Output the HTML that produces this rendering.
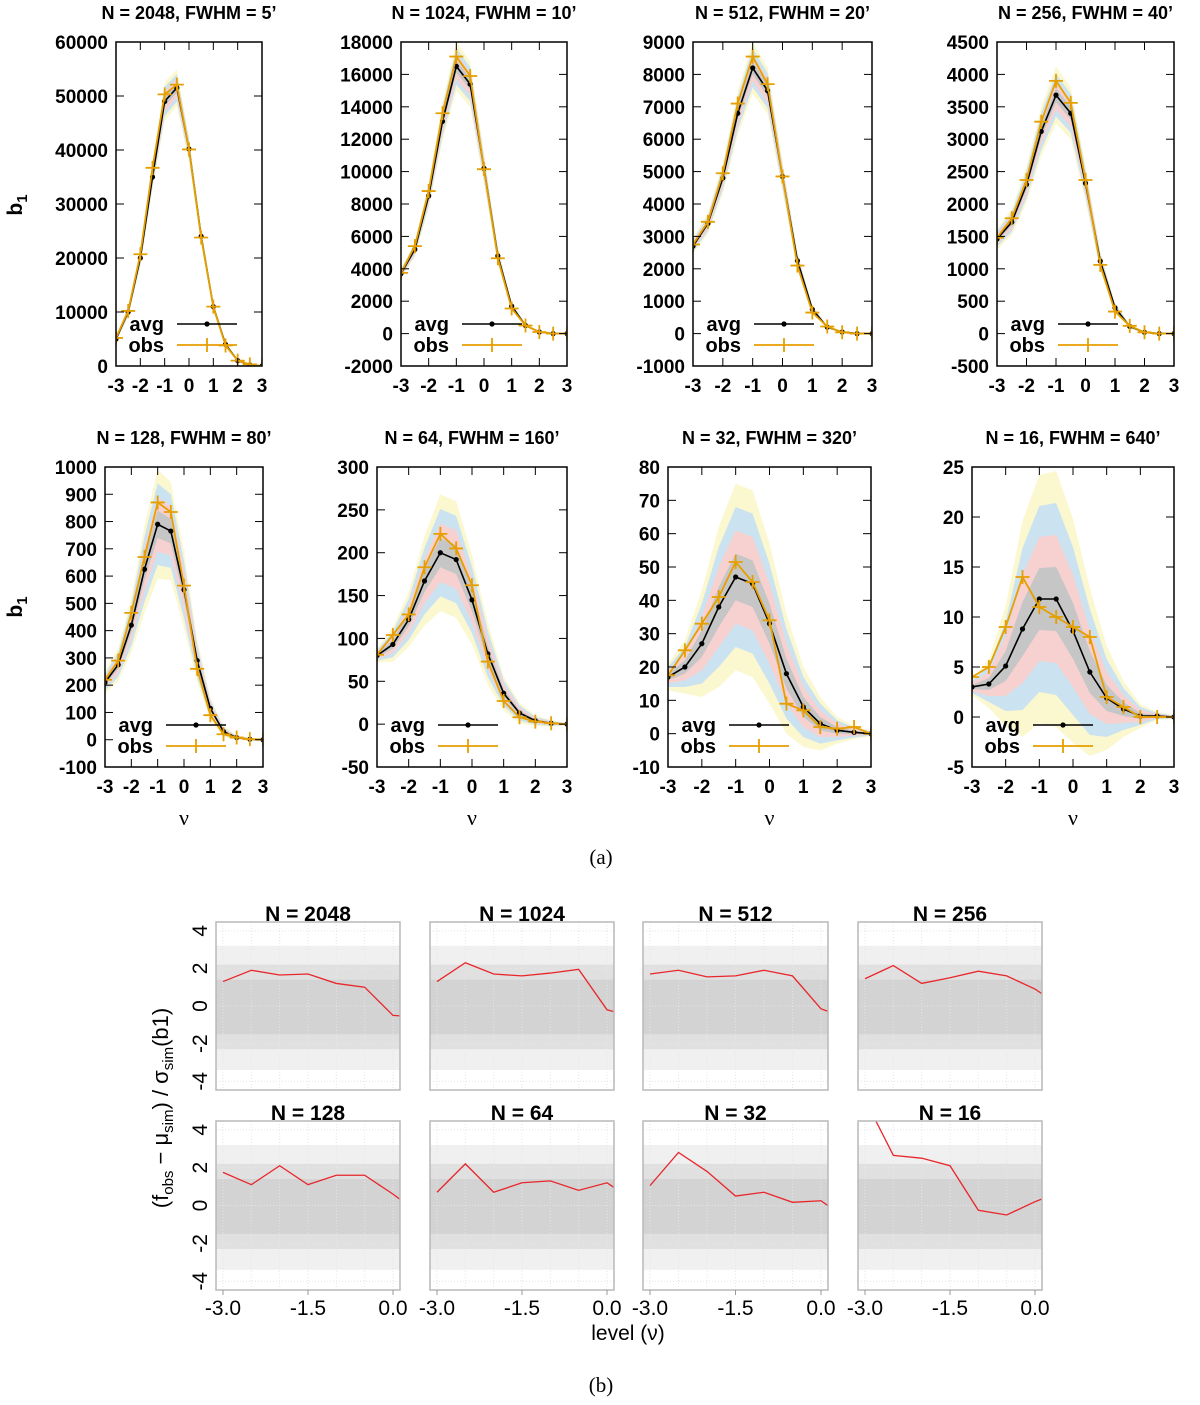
<!DOCTYPE html>
<html><head><meta charset="utf-8"><style>
html,body{margin:0;padding:0;background:#fff;}
svg{display:block;font-family:"Liberation Sans",sans-serif;}
</style></head><body>
<svg id="fig" width="1200" height="1405" viewBox="0 0 1200 1405" xmlns="http://www.w3.org/2000/svg">
<defs id="defs"></defs>
<text x="601" y="864" text-anchor="middle" font-family="Liberation Serif, serif" font-size="21">(a)</text>
<text x="601" y="1392" text-anchor="middle" font-family="Liberation Serif, serif" font-size="21">(b)</text>
<text transform="translate(22,205) rotate(-90)" text-anchor="middle" font-weight="bold" font-size="21">b<tspan font-size="15" dy="5">1</tspan></text>
<text transform="translate(22,607) rotate(-90)" text-anchor="middle" font-weight="bold" font-size="21">b<tspan font-size="15" dy="5">1</tspan></text>
<text transform="translate(168,1108) rotate(-90)" text-anchor="middle" font-size="22">(f<tspan font-size="15" dy="5">obs</tspan><tspan dy="-5"> − μ</tspan><tspan font-size="15" dy="5">sim</tspan><tspan dy="-5">) / σ</tspan><tspan font-size="15" dy="5">sim</tspan><tspan dy="-5">(b1)</tspan></text>
<text x="628" y="1340" text-anchor="middle" font-size="21">level (ν)</text>
</svg>
<script>
const nu = [-3,-2.5,-2,-1.5,-1,-0.5,0,0.5,1,1.5,2,2.5,3];
const titles = ["N = 2048, FWHM = 5’","N = 1024, FWHM = 10’","N = 512, FWHM = 20’","N = 256, FWHM = 40’","N = 128, FWHM = 80’","N = 64, FWHM = 160’","N = 32, FWHM = 320’","N = 16, FWHM = 640’"];
const avg2048 = [5000,10000,20000,35000,49000,51500,40200,24000,11000,4000,1000,200,0];
const obs2048 = [5200,10200,20700,36700,50300,52100,40100,23800,11000,3800,1000,300,0];
const sig2048 = [150,250,400,600,900,850,600,400,250,120,50,20,5];
const avg1024 = [3700,5200,8500,13100,16500,15400,10200,4800,1700,500,100,0,0];
const obs1024 = [3750,5400,8800,13600,17100,15900,10150,4650,1550,500,100,0,0];
const sig1024 = [80,120,200,300,380,350,250,130,60,25,10,5,2];
const avg512 = [2700,3400,4800,6800,8200,7500,4850,2250,750,200,50,0,0];
const obs512 = [2750,3450,4950,7100,8550,7700,4850,2100,650,220,40,0,0];
const sig512 = [60,80,120,170,200,180,120,70,30,12,5,2,1];
const avg256 = [1460,1720,2300,3120,3680,3400,2320,1120,400,110,20,0,0];
const obs256 = [1480,1780,2370,3270,3900,3560,2370,1060,340,120,20,0,0];
const sig256 = [40,50,70,95,110,100,70,40,18,8,3,1,0.5];
const avg128 = [210,275,420,625,790,765,550,290,115,30,8,2,0];
const obs128 = [220,290,465,670,870,835,565,260,90,20,8,2,0];
const sig128 = [10,15,25,40,50,45,35,20,10,5,2,1,0.5];
const avg64 = [80,93,122,167,200,192,145,82,36,13,4,1,0];
const obs64 = [81,104,128,183,222,205,162,73,27,8,3,1,0];
const sig64 = [2,5,8,13,17,17,13,9,5,3,1.5,1,0.3];
const avg32 = [17,20,27,38,47,45,33,18,8,3,1,0.4,0];
const obs32 = [17.5,25,33,41,51.5,45.5,34,9,7,2,1.5,2,0];
const sig32 = [1,2,4,6,7,7,6,4.5,3,2,1,0.5,0.2];
const avg16 = [3,3.3,5.1,8.8,11.8,11.8,8.6,4.5,1.9,0.8,0.1,0.1,0];
const obs16 = [4,5,9,14,11,10,9,8,2,1,0,0,0];
const sig16 = [0.2,0.6,1.5,2.7,3.1,3.2,2.8,2.1,1.3,0.7,0.3,0.1,0.05];
const avgs = [avg2048,avg1024,avg512,avg256,avg128,avg64,avg32,avg16];
const obss = [obs2048,obs1024,obs512,obs256,obs128,obs64,obs32,obs16];
const sigs = [sig2048,sig1024,sig512,sig256,sig128,sig64,sig32,sig16];
const yMins = [0,-2000,-1000,-500,-100,-50,-10,-5];
const yMaxs = [60000,18000,9000,4500,1000,300,80,25];
const ySteps = [10000,2000,1000,500,100,50,10,5];
const xTicks = [-3,-2,-1,0,1,2,3];

// part (b)
const bTitles = ["N = 2048","N = 1024","N = 512","N = 256","N = 128","N = 64","N = 32","N = 16"];
const levels = [-3,-2.5,-2,-1.5,-1,-0.5,0,0.5];
const red2048 = [1.3,1.9,1.65,1.7,1.2,1.0,-0.5,-0.6];
const red1024 = [1.3,2.3,1.7,1.6,1.75,1.95,-0.2,-0.6];
const red512 = [1.7,1.9,1.55,1.6,1.9,1.6,-0.15,-0.7];
const red256 = [1.45,2.15,1.2,1.5,1.85,1.6,0.9,-0.1];
const red128 = [1.75,1.1,2.1,1.1,1.6,1.6,0.6,-0.5];
const red64 = [0.7,2.2,0.7,1.2,1.3,0.8,1.2,0.2];
const red32 = [1.05,2.8,1.8,0.5,0.7,0.17,0.25,-0.8];
const red16 = [5.6,2.65,2.5,2.1,-0.25,-0.5,0.2,0.8];
const reds = [red2048,red1024,red512,red256,red128,red64,red32,red16];
const bYTicks = [-4,-2,0,2,4];
const bXTicks = [-3,-1.5,0];
const bXTickLabels = ["-3.0","-1.5","0.0"];

const NS = "http://www.w3.org/2000/svg";
const svg = document.getElementById('fig');
const defs = document.getElementById('defs');
function mk(tag, attrs, parent){
  const e = document.createElementNS(NS, tag);
  for (const k in attrs) e.setAttribute(k, attrs[k]);
  (parent||svg).appendChild(e);
  return e;
}

const boxesA = [
  [116,42,262,366],[401,42,567,366],[693,42,872,366],[997,42,1174,366],
  [105,467,263,767],[377,467,567,767],[668,467,871,767],[972,467,1174,767]
];
const bandCols = ["#fbf7cf","#cbe3f0","#f7d0d0","#c6c6c6"];
const bandK = [4,3,2,1];

boxesA.forEach((b,i)=>{
  const [L,T,R,B] = b;
  const g = mk('g',{});
  
  
  const sx = v => L + (v+3)/6*(R-L);
  const sy = v => B - (v-yMins[i])/(yMaxs[i]-yMins[i])*(B-T);
  const cp = mk('clipPath',{id:'ca'+i},defs);
  mk('rect',{x:L,y:T,width:R-L,height:B-T},cp);
  const pg = mk('g',{'clip-path':'url(#ca'+i+')'},g);
  const av = avgs[i], ob = obss[i], sg = sigs[i];
  bandK.forEach((k,j)=>{
    let pts = nu.map((x,n)=>sx(x)+','+sy(av[n]+k*sg[n]));
    pts = pts.concat(nu.slice().reverse().map((x,n)=>{const m=nu.length-1-n;return sx(x)+','+sy(av[m]-k*sg[m]);}));
    const p = mk('polygon',{points:pts.join(' '),fill:bandCols[j]},pg);
    
    
  });
  for (let v=yMins[i]; v<=yMaxs[i]+1e-9; v+=ySteps[i]){
    const y = sy(v);
    mk('line',{x1:L,y1:y,x2:L+8,y2:y,stroke:'#000','stroke-width':1},g);
    mk('line',{x1:R,y1:y,x2:R-8,y2:y,stroke:'#000','stroke-width':1},g);
    const t = mk('text',{x:L-8,y:y+7,'text-anchor':'end','font-weight':'bold','font-size':19},g);
    t.textContent = String(Math.round(v));
    
    
  }
  xTicks.forEach(v=>{
    const x = sx(v);
    mk('line',{x1:x,y1:B,x2:x,y2:B-8,stroke:'#000','stroke-width':1},g);
    mk('line',{x1:x,y1:T,x2:x,y2:T+8,stroke:'#000','stroke-width':1},g);
    const t = mk('text',{x:x,y:B+26,'text-anchor':'middle','font-weight':'bold','font-size':19},g);
    t.textContent = String(v);
    
    
  });
  const la = mk('polyline',{points:nu.map((x,n)=>sx(x)+','+sy(av[n])).join(' '),fill:'none',stroke:'#000','stroke-width':1.6},pg);
  
  
  nu.forEach((x,n)=>{ mk('circle',{cx:sx(x),cy:sy(av[n]),r:2.6,fill:'#000'},pg); });
  const lo = mk('polyline',{points:nu.map((x,n)=>sx(x)+','+sy(ob[n])).join(' '),fill:'none',stroke:'#e69f00','stroke-width':1.8},pg);
  
  
  nu.forEach((x,n)=>{
    const X=sx(x),Y=sy(ob[n]);
    mk('path',{d:`M${X-7},${Y}H${X+7}M${X},${Y-7}V${Y+7}`,stroke:'#e69f00','stroke-width':1.8},pg);
  });
  mk('rect',{x:L,y:T,width:R-L,height:B-T,fill:'none',stroke:'#000','stroke-width':1.5},g);
  const t1 = mk('text',{x:L+48,y:B-35,'text-anchor':'end','font-weight':'bold','font-size':20},g);
  t1.textContent='avg';
  
  
  mk('line',{x1:L+61,y1:B-42,x2:L+121,y2:B-42,stroke:'#000','stroke-width':1.6},g);
  mk('circle',{cx:L+91,cy:B-42,r:2.6,fill:'#000'},g);
  const t2 = mk('text',{x:L+48,y:B-14,'text-anchor':'end','font-weight':'bold','font-size':20},g);
  t2.textContent='obs';
  
  
  mk('path',{d:`M${L+61},${B-21}H${L+121}M${L+91},${B-28}V${B-14}`,stroke:'#e69f00','stroke-width':1.8},g);
  const tt = mk('text',{x:(L+R)/2,y:T-23,'text-anchor':'middle','font-weight':'bold','font-size':18},g);
  tt.textContent = titles[i];
  
  
  if (i>=4){
    const xl = mk('text',{x:(L+R)/2,y:825,'text-anchor':'middle','font-family':'Liberation Serif, serif','font-size':22},g);
    xl.textContent='ν';
    
    
  }
});

const boxesB = [
  [216,922,400,1090],[430,922,614,1090],[643,922,828,1090],[858,922,1042,1090],
  [216,1121,400,1290],[430,1121,614,1290],[643,1121,828,1290],[858,1121,1042,1290]
];
boxesB.forEach((b,i)=>{
  const [L,T,R,B] = b;
  const g = mk('g',{});
  
  
  const x0 = L+7, x1 = R-7;
  const sx = v => x0 + (v+3)/3*(x1-x0);
  const yc = (T+B)/2;
  const sy = v => yc - v*(B-T-10)/8.4;
  const cp = mk('clipPath',{id:'cb'+i},defs);
  mk('rect',{x:L,y:T,width:R-L,height:B-T},cp);
  const pg = mk('g',{'clip-path':'url(#cb'+i+')'},g);
  const s1 = mk('rect',{x:L,y:sy(3.2),width:R-L,height:sy(-3.4)-sy(3.2),fill:'#f0f0f0'},pg);
  
  
  const s2 = mk('rect',{x:L,y:sy(2.2),width:R-L,height:sy(-2.3)-sy(2.2),fill:'#e0e0e0'},pg);
  
  
  const s3 = mk('rect',{x:L,y:sy(1.4),width:R-L,height:sy(-1.5)-sy(1.4),fill:'#d3d3d3'},pg);
  
  
  levels.slice(0,7).forEach(v=>{ mk('line',{x1:sx(v),y1:T,x2:sx(v),y2:B,stroke:'#e6e6e6','stroke-dasharray':'1,2'},pg); });
  bYTicks.forEach(v=>{ mk('line',{x1:L,y1:sy(v),x2:R,y2:sy(v),stroke:'#e6e6e6','stroke-dasharray':'1,2'},pg); });
  const rd = reds[i];
  const rl = mk('polyline',{points:levels.map((x,n)=>sx(x)+','+sy(rd[n])).join(' '),fill:'none',stroke:'#e8262b','stroke-width':1.3},pg);
  
  
  mk('rect',{x:L,y:T,width:R-L,height:B-T,fill:'none',stroke:'#b8b8b8','stroke-width':1.5},g);
  const tt = mk('text',{x:(L+R)/2,y:T-1,'text-anchor':'middle','font-weight':'bold','font-size':21},g);
  tt.textContent = bTitles[i];
  
  
  if (i%4===0){
    bYTicks.forEach(v=>{
      const t = mk('text',{transform:`translate(${L-9},${sy(v)}) rotate(-90)`,'text-anchor':'middle','font-size':21},g);
      t.textContent = String(v);
      
      
    });
  }
  if (i>=4){
    bXTicks.forEach((v,n)=>{
      mk('line',{x1:sx(v),y1:B,x2:sx(v),y2:B+5,stroke:'#999'},g);
      const t = mk('text',{x:sx(v),y:B+25,'text-anchor':'middle','font-size':21},g);
      t.textContent = bXTickLabels[n];
      
      
    });
  }
});
</script>
</body></html>
